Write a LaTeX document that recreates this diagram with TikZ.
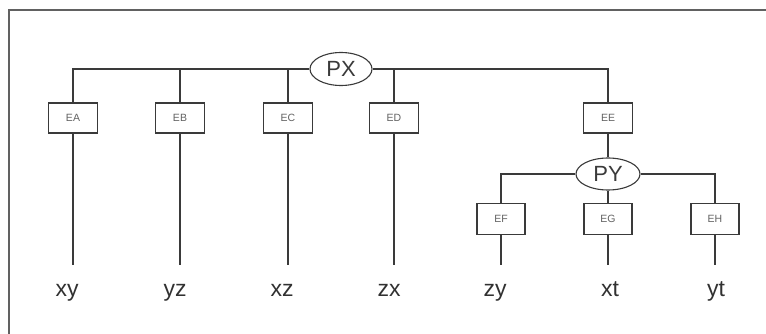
\documentclass[tikz,border=0pt]{standalone}
\usepackage{fontspec}
\setmainfont{Liberation Sans}
\usetikzlibrary{shapes.geometric}
\definecolor{ink}{HTML}{3A3A3A}
\begin{document}
\begin{tikzpicture}[x=1pt,y=-1pt,
  wire/.style={draw=ink,line width=1.1pt},
  hub/.style={ellipse,draw=ink,line width=1.1pt,inner sep=0pt,
    minimum width=62pt,minimum height=33pt,font=\fontsize{22}{22}\selectfont,text=ink},
  gate/.style={rectangle,draw=ink,line width=1.2pt,inner sep=0pt,
    minimum width=49pt,minimum height=30pt,font=\fontsize{10.5}{10.5}\selectfont,text=ink!80},
  leaf/.style={inner sep=0pt,anchor=base,font=\fontsize{23}{23}\selectfont,text=ink!85!black}]
\useasboundingbox (0,0) rectangle (766,334);
% outer frame (only top and left edges fall inside the page)
\draw[draw=ink!80,line width=1.2pt] (9,334) -- (9,10) -- (766,10);

% upper tree
\node[hub] (PX) at (341,69) {PX};
\node[gate] (EA) at (73,118) {EA};
\node[gate] (EB) at (180,118) {EB};
\node[gate] (EC) at (288,118) {EC};
\node[gate] (ED) at (394,118) {ED};
\node[gate] (EE) at (608,118) {EE};
\draw[wire] (PX.west) -| (EA.north);
\draw[wire] (PX.east) -| (EE.north);
\draw[wire] (EB.north) -- (EB.north |- PX.center);
\draw[wire] (EC.north) -- (EC.north |- PX.center);
\draw[wire] (ED.north) -- (ED.north |- PX.center);

% lower tree
\node[hub,minimum width=64pt,minimum height=32pt] (PY) at (608,174) {PY};
\draw[wire] (EE.south) -- (PY.north);
\node[gate,minimum width=48pt,minimum height=31pt] (EF) at (501,219) {EF};
\node[gate,minimum width=48pt,minimum height=31pt] (EG) at (608,219) {EG};
\node[gate,minimum width=48pt,minimum height=31pt] (EH) at (715,219) {EH};
\draw[wire] (PY.west) -| (EF.north);
\draw[wire] (PY.east) -| (EH.north);
\draw[wire] (PY.south) -- (EG.north);

% leg ends
\foreach \n in {EA,EB,EC,ED,EF,EG,EH}
  \coordinate (\n-end) at (\n.south |- 0,265);
\foreach \n in {EA,EB,EC,ED,EF,EG,EH}
  \draw[wire] (\n.south) -- (\n-end);

% leaf labels, set on a common baseline
\node[leaf] (Lxy) at (67,296) {xy};
\node[leaf] (Lyz) at (175,296) {yz};
\node[leaf] (Lxz) at (282,296) {xz};
\node[leaf] (Lzx) at (389,296) {zx};
\node[leaf] (Lzy) at (495,296) {zy};
\node[leaf] (Lxt) at (610,296) {xt};
\node[leaf] (Lyt) at (716,296) {yt};
\end{tikzpicture}
\end{document}
